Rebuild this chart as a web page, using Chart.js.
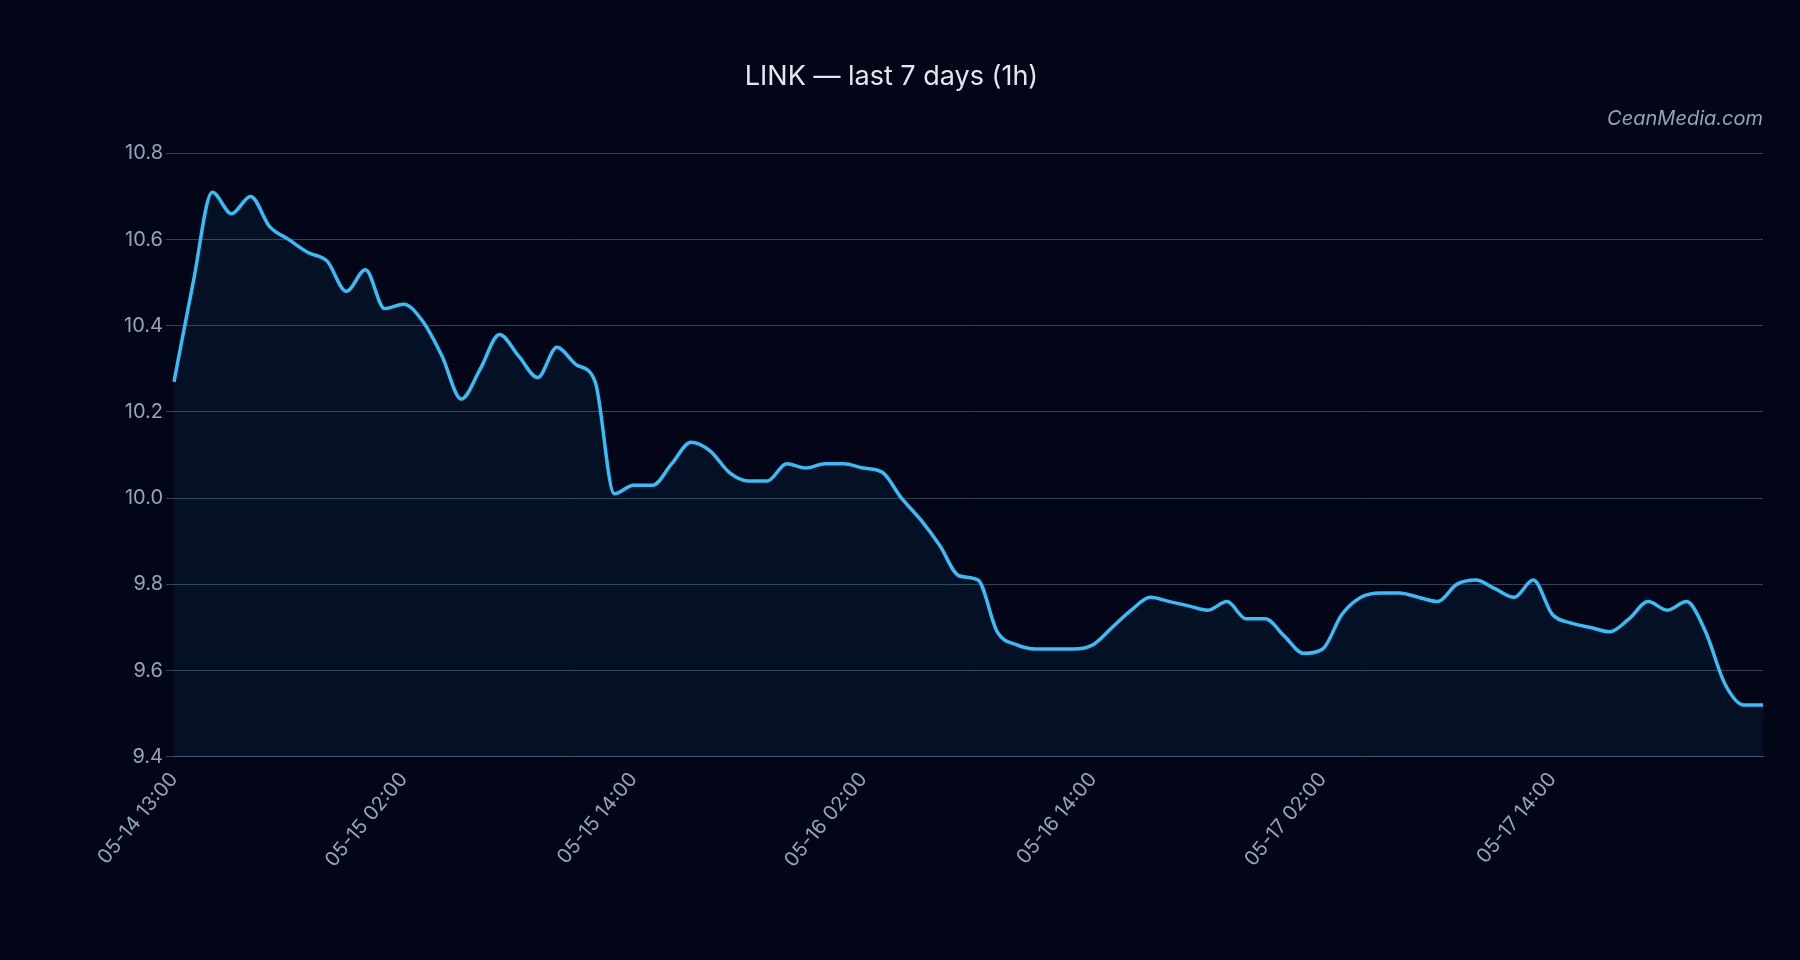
<!DOCTYPE html>
<html><head><meta charset="utf-8">
<script src="https://cdn.jsdelivr.net/npm/chart.js@4"></script>
<style>html,body{margin:0;padding:0;background:#020617;}#w{width:1800px;height:960px;}</style>
</head><body><div id="w"><canvas id="c"></canvas></div>
<script>
const prices=[10.27,10.50,10.71,10.66,10.70,10.63,10.60,10.57,10.55,10.48,10.53,10.44,
10.45,10.41,10.33,10.23,10.30,10.38,10.33,10.28,10.35,10.31,10.27,10.01,
10.03,10.03,10.08,10.13,10.11,10.06,10.04,10.04,10.08,10.07,10.08,10.08,
10.07,10.06,10.00,9.95,9.89,9.82,9.81,9.69,9.66,9.65,9.65,9.65,
9.66,9.70,9.74,9.77,9.76,9.75,9.74,9.76,9.72,9.72,9.68,9.64,
9.65,9.73,9.77,9.78,9.78,9.77,9.76,9.80,9.81,9.79,9.77,9.81,
9.73,9.71,9.70,9.69,9.72,9.76,9.74,9.76,9.69,9.57,9.52,9.52];
const tickLabels=['05-14 13:00','05-15 02:00','05-15 14:00','05-16 02:00','05-16 14:00','05-17 02:00','05-17 14:00'];
const categories=prices.map((_,i)=>String(i));
const watermark={id:'wm',afterDraw(ch){const c=ch.ctx;c.save();c.font='italic 20px Inter, "DejaVu Sans"';c.fillStyle='#94a3b8';c.textAlign='right';c.textBaseline='middle';c.fillText('CeanMedia.com',ch.chartArea.right,119);c.restore();}};
new Chart(document.getElementById('c'),{type:'line',
data:{labels:categories,datasets:[{data:prices,borderColor:'#38bdf8',borderWidth:3.5,pointRadius:0,fill:true,backgroundColor:'rgba(56,189,248,0.06)',cubicInterpolationMode:'monotone'}]},
options:{responsive:true,maintainAspectRatio:false,animation:false,
layout:{padding:{left:20,right:37,top:26,bottom:85}},
plugins:{legend:{display:false},tooltip:{enabled:false},
title:{display:true,text:'LINK — last 7 days (1h)',color:'#e2e8f0',font:{family:'Inter, "DejaVu Sans"',size:27,weight:'normal'},padding:{top:35,bottom:60}}},
scales:{x:{grid:{display:false},border:{color:'#475569'},
ticks:{autoSkip:false,maxRotation:50,minRotation:50,color:'#94a3b8',font:{family:'Inter, "DejaVu Sans"',size:20},
callback:(v,i)=>i%12===0?tickLabels[i/12]:null}},
y:{min:9.4,max:10.8,grid:{color:'#334155'},border:{display:false},afterFit:s=>{s.width=154;},
ticks:{stepSize:0.2,color:'#94a3b8',font:{family:'Inter, "DejaVu Sans"',size:20},callback:v=>v.toFixed(1)}}}},
plugins:[watermark]});
</script></body></html>
